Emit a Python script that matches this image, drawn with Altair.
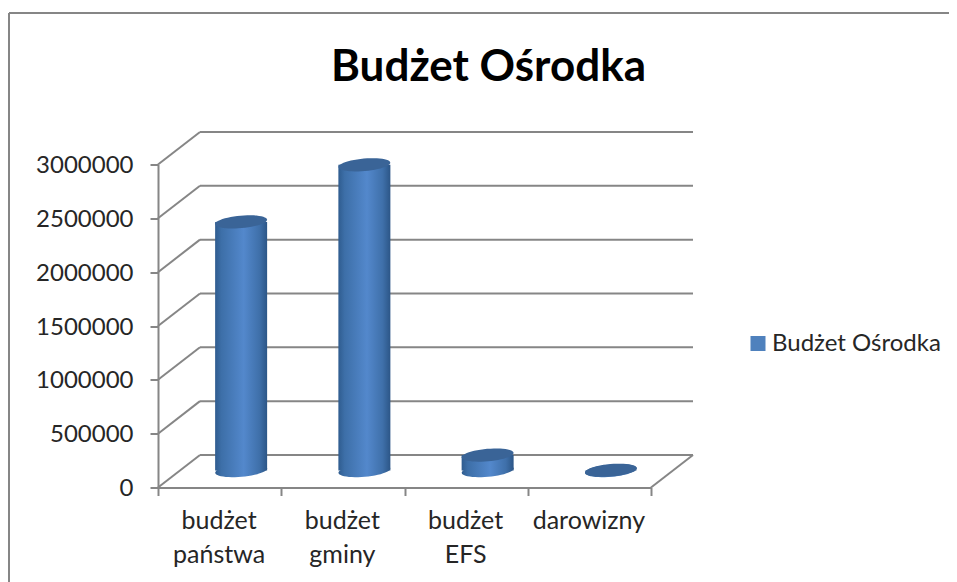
import math
import altair as alt
import pandas as pd

categories = ["budżet państwa", "budżet gminy", "budżet EFS", "darowizny"]
values = [2310000, 2840000, 144000, 3000]
ticks = [0, 500000, 1000000, 1500000, 2000000, 2500000, 3000000]
series_name = "Budżet Ośrodka"
title_text = "Budżet Ośrodka"

DEPTH = 302000  # the wall's depth, in value units
W, H = 493, 323
DX = 42
FONT = "Lato"
GREY = "#868686"
TXT = "#262626"


def ellipse_path(ry=0.24, tilt=-5):
    a = math.radians(tilt)
    pts = []
    for i in range(48):
        t = 2 * math.pi * i / 48
        ex, ey = math.cos(t), ry * math.sin(t)
        pts.append(f"{ex*math.cos(a)-ey*math.sin(a):.3f} {ex*math.sin(a)+ey*math.cos(a):.3f}")
    return "M" + " L".join(pts) + " Z"


SHAPE = ellipse_path()
SIZE = 52 ** 2

bars = pd.DataFrame({"cat": categories, "v": values})
bars["base"] = DEPTH * 0.52
bars["top"] = bars["v"] + bars["base"]
grid = pd.DataFrame({"v": ticks})
grid["back"] = grid["v"] + DEPTH
floor = pd.DataFrame({"v": [0], "back": [DEPTH]})
legend_df = pd.DataFrame({"s": [series_name]})

gradient = alt.Gradient(
    gradient="linear", x1=0, x2=1, y1=0, y2=0,
    stops=[
        alt.GradientStop(offset=0, color="#2f5c8f"),
        alt.GradientStop(offset=0.12, color="#3d6fa8"),
        alt.GradientStop(offset=0.55, color="#5388cc"),
        alt.GradientStop(offset=0.85, color="#3f70aa"),
        alt.GradientStop(offset=1, color="#2c5687"),
    ],
)

yscale = alt.Scale(domain=[0, 3000000], nice=False)
xscale = alt.Scale(domain=categories, paddingInner=0, paddingOuter=0)

xaxis = alt.Axis(
    labelAngle=0, labelFont=FONT, labelFontSize=25, labelColor=TXT,
    labelExpr="split(datum.label, ' ')", labelLineHeight=34,
    labelPadding=13, tickBand="extent", tickSize=8, tickWidth=2,
    tickColor=GREY, domainColor=GREY, domainWidth=2, labelLimit=200,
    labelOffset=-1,
)
yaxis = alt.Axis(
    values=ticks, format="d", labelFont=FONT, labelFontSize=24, labelColor=TXT,
    labelPadding=17, tickSize=8, tickWidth=2, tickColor=GREY,
    domainColor=GREY, domainWidth=2, grid=False, labelOffset=1,
)


def Y(field):
    return alt.Y(field, scale=yscale, axis=yaxis, title=None)


def X():
    return alt.X("cat:N", scale=xscale, sort=categories, axis=xaxis, title=None)


back_lines = alt.Chart(grid).mark_rule(color=GREY, strokeWidth=2).encode(
    x=alt.value(DX), x2=alt.value(W + DX), y=Y("back:Q"),
)
diagonals = alt.Chart(grid).mark_rule(color=GREY, strokeWidth=2).encode(
    x=alt.value(0), x2=alt.value(DX), y=Y("v:Q"), y2="back:Q",
)
floor_side = alt.Chart(floor).mark_rule(color=GREY, strokeWidth=2).encode(
    x=alt.value(W), x2=alt.value(W + DX), y=Y("v:Q"), y2="back:Q",
)

base_ellipse = alt.Chart(bars).mark_point(
    filled=True, fill=gradient, shape=SHAPE, size=SIZE, opacity=1, strokeWidth=0, xOffset=21.5
).encode(x=X(), y=Y("base:Q"))

body = alt.Chart(bars).mark_bar(fill=gradient, width=52, xOffset=21.5).encode(
    x=X(), y=Y("top:Q"), y2="base:Q",
)

top_ellipse = alt.Chart(bars).mark_point(
    filled=True, fill="#3a6497", shape=SHAPE, size=SIZE, opacity=1, strokeWidth=0, xOffset=21.5
).encode(x=X(), y=Y("top:Q"))

legend_layer = alt.Chart(legend_df).mark_square(opacity=0).encode(
    color=alt.Color(
        "s:N", scale=alt.Scale(range=["#4f81bd"]), title=None,
        legend=alt.Legend(
            orient="none", legendX=588, legendY=167, symbolType="square", symbolSize=225,
            symbolOpacity=1, symbolStrokeWidth=0, labelFont=FONT, labelFontSize=24,
            labelColor=TXT, labelLimit=300, labelOffset=2,
        ),
    ),
)

frame_top = alt.Chart(legend_df).mark_rule(color=GREY, strokeWidth=2).encode(
    x=alt.value(-149), x2=alt.value(800), y=alt.value(-151.5)
)
frame_left = alt.Chart(legend_df).mark_rule(color=GREY, strokeWidth=2).encode(
    x=alt.value(-149), y=alt.value(-151.5), y2=alt.value(420)
)

chart = alt.layer(
    frame_top, frame_left, back_lines, diagonals, floor_side,
    base_ellipse, body, top_ellipse, legend_layer,
).properties(
    width=W, height=H,
    padding={"left": 150, "top": 156.5, "right": 298, "bottom": 94.5},
    autosize=alt.AutoSizeParams(type="none"),
    title=alt.TitleParams(
        title_text, font=FONT, fontSize=44, fontWeight="bold", color="#000000",
        anchor="middle", frame="group", dx=84, offset=0, dy=113, baseline="alphabetic",
    ),
    background="#ffffff",
).resolve_scale(color="independent").configure_view(stroke=None)

chart.save("out.html", embed_options={"renderer": "svg", "actions": False})
